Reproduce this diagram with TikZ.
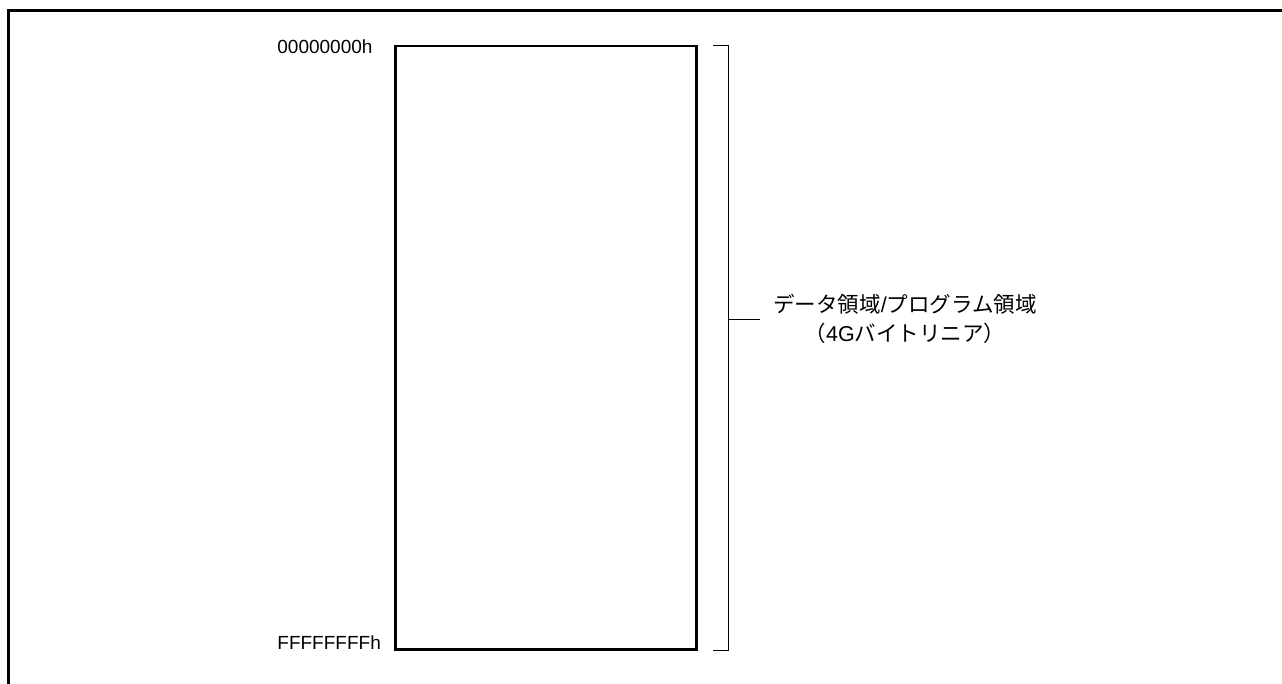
\documentclass[tikz,border=0pt]{standalone}
\usepackage{fontspec}
\setmainfont{Liberation Sans}
\newfontfamily\jpfont{Noto Sans CJK JP}
\usetikzlibrary{positioning}

\begin{document}
\begin{tikzpicture}[x=1pt, y=-1pt, thick]
    \tikzset{
        addr/.style={anchor=west, inner sep=0pt, font=\fontsize{19}{23}\selectfont},
        memarea/.style={draw, line width=2.5pt, minimum width=301pt, minimum height=603pt, inner sep=0pt},
        bracket/.style={line width=1pt},
        areaname/.style={align=center, inner sep=0pt, font=\fontsize{21.5}{29}\selectfont}
    }
    \useasboundingbox (0,0) rectangle (1282,684);
    % frame
    \draw[line width=3pt] (8.5,684) -- (8.5,11) -- (1282,11);

    % memory area
    \node[memarea] (mem) at (546,347.75) {};
    \node[addr] (first) at (277,47) {00000000h};
    \node[addr] (last) at (277,643) {FFFFFFFFh};

    % bracket
    \coordinate (bt) at (728,45.5);
    \coordinate (bb) at (728,650);
    \coordinate (bm) at (728,320);
    \draw[bracket] ([xshift=-15pt]bt) -- (bt) -- (bb) -- ([xshift=-15pt]bb);
    \draw[bracket] (bm) -- ++(32,0) coordinate (tk);
    \node[areaname, right=13pt of tk, yshift=1pt] (name)
        {{\jpfont データ領域}/{\jpfont プログラム領域}\\{\jpfont （}4G{\jpfont バイトリニア）}};
\end{tikzpicture}
\end{document}
